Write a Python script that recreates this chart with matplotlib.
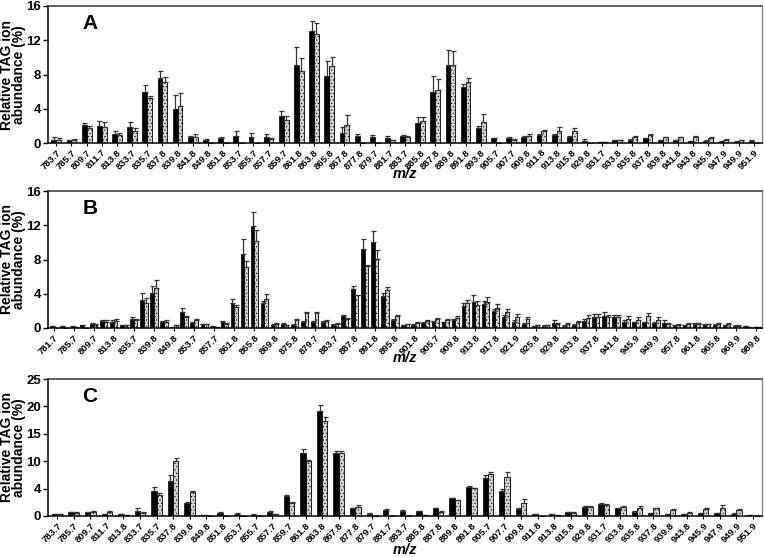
import numpy as np
import matplotlib
matplotlib.use('Agg')
import matplotlib.pyplot as plt

plt.rcParams['font.family'] = ['Liberation Sans', 'DejaVu Sans']
plt.rcParams['hatch.color'] = '#8a8a8a'
plt.rcParams['hatch.linewidth'] = 0.4

# ---- panel A ----
labels_a = ['783.7', '785.7', '809.7', '811.7', '813.8', '833.7', '835.7', '837.8', '839.8',
            '841.8', '849.8', '851.8', '853.7', '855.7', '857.7', '859.7', '861.8', '863.8',
            '865.8', '867.8', '877.8', '879.7', '881.7', '883.7', '885.8', '887.8', '889.8',
            '891.8', '893.8', '905.7', '907.7', '909.8', '911.8', '913.8', '915.8', '929.8',
            '931.7', '933.8', '935.8', '937.8', '939.8', '941.8', '943.8', '945.9', '947.9',
            '949.9', '951.9']
black_a = [0.4, 0.3, 2.1, 2.0, 1.05, 1.9, 5.9, 7.55, 3.95, 0.65, 0.4, 0.55, 0.85, 0.7, 0.75,
           3.2, 9.1, 13.1, 7.85, 1.15, 0.8, 0.65, 0.6, 0.8, 2.35, 6.0, 9.1, 6.55, 1.8, 0.55,
           0.6, 0.7, 0.95, 0.9, 0.7, 0.25, 0.1, 0.35, 0.4, 0.55, 0.35, 0.3, 0.2, 0.25, 0.15,
           0.15, 0.25]
black_a_err = [0.3, 0.1, 0.25, 0.6, 0.4, 0.55, 0.85, 0.9, 1.6, 0.15, 0.05, 0.1, 0.6, 0.45, 0.3,
               0.55, 2.15, 1.1, 1.7, 0.7, 0.2, 0.25, 0.2, 0.1, 0.65, 1.85, 1.8, 0.3, 0.15, 0.05,
               0.1, 0.1, 0.1, 0.1, 0.1, 0.25, 0.05, 0.05, 0.05, 0.05, 0.05, 0.05, 0.05, 0.05,
               0.05, 0.05, 0.05]
gray_a = [0.35, 0.35, 1.8, 1.85, 0.95, 1.45, 5.2, 7.15, 4.3, 0.65, 0, 0, 0, 0.05, 0.5,
          2.65, 8.45, 12.7, 8.95, 2.15, 0, 0, 0.35, 0.75, 2.6, 6.15, 9.1, 7.1, 2.5, 0,
          0.4, 0.85, 1.4, 1.45, 1.35, 0, 0.08, 0.35, 0.75, 0.9, 0.65, 0.7, 0.75, 0.6, 0.4,
          0.3, 0]
gray_a_err = [0.2, 0.1, 0.2, 0.6, 0.2, 0.3, 0.3, 0.55, 1.5, 0.35, 0, 0, 0, 0, 0.1,
              0.45, 1.45, 1.3, 1.15, 1.1, 0, 0, 0.05, 0.1, 0.45, 1.3, 1.7, 0.45, 0.9, 0,
              0.05, 0.15, 0.15, 0.4, 0.4, 0, 0, 0.05, 0.1, 0.15, 0.05, 0.05, 0.05, 0.05,
              0.05, 0.05, 0]

# ---- panel B (every other group labelled) ----
labels_b = ['781.7', '', '785.7', '', '809.7', '', '813.8', '', '835.7', '', '839.8', '',
            '849.8', '', '853.7', '', '857.7', '', '861.8', '', '865.8', '', '869.8', '',
            '875.8', '', '879.7', '', '883.7', '', '887.8', '', '891.8', '', '895.8', '',
            '901.8', '', '905.7', '', '909.8', '', '913.8', '', '917.8', '', '921.9', '',
            '925.8', '', '929.8', '', '933.8', '', '937.8', '', '941.8', '', '945.9', '',
            '949.9', '', '957.8', '', '961.8', '', '965.8', '', '969.9', '', '989.8']
black_b = [0.2, 0.2, 0.15, 0.3, 0.45, 0.8, 0.75, 0.3, 1.1, 3.3, 4.1, 0.65, 0.1, 1.9, 0.6,
           0.45, 0.2, 0.7, 2.9, 8.7, 11.9, 2.9, 0.35, 0.5, 0.35, 0.7, 0.65, 0.7, 0.35, 1.35,
           4.5, 9.2, 10.1, 3.7, 0.9, 0.3, 0.4, 0.55, 0.75, 0.65, 0.95, 2.6, 3.0, 2.8, 1.95,
           1.3, 0.75, 0.5, 0.2, 0.25, 0.55, 0.25, 0.4, 0.8, 1.25, 1.45, 1.3, 0.75, 0.65,
           0.65, 0.55, 0.55, 0.3, 0.3, 0.45, 0.4, 0.4, 0.3, 0.25, 0.2, 0.1]
black_b_err = [0.05, 0.05, 0.05, 0.1, 0.1, 0.15, 0.15, 0.05, 0.2, 0.8, 0.8, 0.15, 0.05, 0.45,
               0.1, 0.05, 0.05, 0.1, 0.5, 1.7, 1.6, 0.3, 0.1, 0.1, 0.1, 0.1, 0.2, 0.1, 0.1,
               0.2, 0.4, 1.2, 1.2, 0.4, 0.15, 0.05, 0.05, 0.1, 0.1, 0.1, 0.15, 0.3, 0.9, 0.4,
               0.3, 0.2, 0.2, 0.1, 0.05, 0.05, 0.4, 0.1, 0.1, 0.2, 0.4, 0.4, 0.2, 0.2, 0.1,
               0.1, 0.1, 0.4, 0.05, 0.05, 0.1, 0.05, 0.1, 0.05, 0.05, 0.05, 0.05]
gray_b = [0, 0, 0.1, 0, 0.35, 0.75, 0.85, 0.3, 0.9, 2.9, 4.7, 0.75, 0.35, 1.25, 0.9,
          0.45, 0.1, 0.5, 2.4, 7.1, 10.2, 3.4, 0.45, 0.35, 0.9, 1.7, 1.75, 0.8, 0.5, 1.1,
          3.8, 7.2, 8.1, 4.4, 1.35, 0.45, 0.55, 0.8, 1.05, 0.9, 1.15, 2.9, 2.7, 3.0, 2.35,
          1.85, 1.3, 1.05, 0.35, 0.35, 0.5, 0.45, 0.7, 1.15, 1.3, 1.25, 1.25, 1.05, 0.95,
          1.35, 0.95, 0.45, 0.4, 0.5, 0.45, 0.45, 0.5, 0.45, 0.25, 0.1, 0.05]
gray_b_err = [0, 0, 0.05, 0, 0.1, 0.15, 0.15, 0.05, 0.15, 0.6, 0.9, 0.2, 0.05, 0.1, 0.1,
              0.05, 0.05, 0.1, 0.3, 0.7, 1.2, 0.6, 0.1, 0.05, 0.1, 0.2, 0.1, 0.1, 0.1, 0.1,
              0.1, 0.2, 1.0, 0.4, 0.15, 0.05, 0.1, 0.1, 0.15, 0.1, 0.3, 0.4, 0.5, 0.6, 0.4,
              0.4, 0.3, 0.2, 0.05, 0.05, 0.1, 0.1, 0.1, 0.4, 0.3, 0.3, 0.3, 0.4, 0.3, 0.4,
              0.3, 0.1, 0.05, 0.1, 0.1, 0.05, 0.1, 0.1, 0.05, 0.05, 0.02]

# ---- panel C ----
labels_c = ['783.7', '785.7', '809.7', '811.7', '813.8', '833.7', '835.7', '837.8', '839.8',
            '849.8', '851.8', '853.7', '855.7', '857.7', '859.7', '861.8', '863.8', '867.8',
            '877.8', '879.7', '881.7', '883.7', '885.8', '887.8', '889.8', '891.8', '905.7',
            '907.7', '909.8', '911.8', '913.8', '915.8', '929.8', '931.7', '933.8', '935.8',
            '937.8', '939.8', '943.8', '945.9', '947.9', '949.9', '951.9']
black_c = [0.35, 0.65, 0.7, 0.35, 0.3, 1.0, 4.6, 6.45, 2.4, 0.15, 0.6, 0.45, 0.25, 0.8,
           3.6, 11.5, 19.2, 11.45, 1.4, 0.45, 1.1, 1.0, 0.85, 1.45, 3.2, 5.35, 7.0, 4.55,
           1.3, 0.3, 0.4, 0.65, 1.7, 2.25, 1.4, 0.75, 0.5, 0.35, 0.3, 0.55, 0.5, 0.45, 0.25]
black_c_err = [0.05, 0.1, 0.1, 0.05, 0.05, 0.5, 0.7, 1.0, 0.2, 0.02, 0.1, 0.05, 0.05, 0.1,
               0.3, 0.8, 1.0, 0.4, 0.1, 0.05, 0.1, 0.05, 0.1, 0.1, 0.1, 0.1, 0.4, 0.4,
               0.1, 0.05, 0.05, 0.1, 0.2, 0.1, 0.1, 0.1, 0.05, 0.05, 0.05, 0.05, 0.05, 0.05, 0.02]
gray_c = [0.3, 0.6, 0.75, 0.8, 0.15, 0.6, 3.8, 10.0, 4.3, 0, 0, 0, 0, 0.3,
          2.4, 10.0, 17.4, 11.45, 1.65, 0, 0, 0, 0.1, 0.8, 2.85, 5.05, 7.6, 7.2,
          2.45, 0, 0.15, 0.55, 1.65, 2.0, 1.7, 1.4, 1.45, 1.15, 0.6, 1.3, 1.4, 1.1, 0]
gray_c_err = [0.05, 0.1, 0.1, 0.1, 0.02, 0.1, 0.4, 0.5, 0.3, 0, 0, 0, 0, 0.05,
              0.15, 0.3, 0.6, 0.4, 0.3, 0, 0, 0, 0.02, 0.1, 0.1, 0.1, 0.4, 0.8,
              0.6, 0, 0.02, 0.1, 0.1, 0.1, 0.1, 0.5, 0.1, 0.1, 0.1, 0.1, 0.6, 0.1, 0]

panels = [
    ('A', labels_a, black_a, black_a_err, gray_a, gray_a_err, 16, [0, 4, 8, 12, 16], None),
    ('B', labels_b, black_b, black_b_err, gray_b, gray_b_err, 16, [0, 4, 8, 12, 16], None),
    ('C', labels_c, black_c, black_c_err, gray_c, gray_c_err, 25, [0, 5, 10, 15, 20, 25],
     ['0', '4', '10', '15', '20', '25']),
]

# axes boxes in pixels: (top, bottom)
boxes = [(6, 143), (191, 328), (379, 516)]
mz_y = [174, 358, 550]
W, H = 764, 557
left_px, right_px = 48, 762

fig = plt.figure(figsize=(W / 100, H / 100), dpi=100)

for (letter, labels, blk, blk_e, gry, gry_e, ymax, yticks, ytl), (top, bot), my in zip(panels, boxes, mz_y):
    ax = fig.add_axes([left_px / W, 1 - bot / H, (right_px - left_px) / W, (bot - top) / H])
    n = len(labels)
    x = np.arange(n)
    w = 0.32 if n < 60 else 0.36
    blk = np.array(blk); gry = np.array(gry)
    ekw = dict(ecolor='#333333', elinewidth=0.9, capsize=1.8, capthick=0.9)
    ax.bar(x - w / 2, blk, w, color='black', edgecolor='black', linewidth=0.5,
           yerr=[np.zeros(n), blk_e], error_kw=ekw)
    ax.bar(x + w / 2, gry, w, color='#d2d2d2', edgecolor='black', linewidth=0.6,
           hatch='.....', yerr=[np.zeros(n), gry_e], error_kw=ekw)
    ax.set_xlim(-0.55, n - 0.45)
    ax.set_ylim(0, ymax)
    ax.set_yticks(yticks)
    if ytl:
        ax.set_yticklabels(ytl)
    for t in ax.get_yticklabels():
        t.set_fontweight('bold')
        t.set_fontsize(9.5)

    idx = [i for i, l in enumerate(labels) if l]
    ax.set_xticks(idx)
    ax.set_xticklabels([labels[i] for i in idx], rotation=45, ha='right',
                       rotation_mode='anchor', fontsize=6.8, fontweight='bold')
    ax.tick_params(axis='x', length=2.5, width=0.8, pad=1.0)
    ax.tick_params(axis='y', length=3.5, width=1.0, pad=1.5)

    for s in ['left', 'bottom', 'top']:
        ax.spines[s].set_linewidth(1.1)
        ax.spines[s].set_color('black')
    ax.spines['right'].set_color('#888888')
    ax.spines['right'].set_linewidth(1.0)
    ax.spines['top'].set_color('#333333')

    ax.text(0.048, 0.83, letter, transform=ax.transAxes, fontsize=15, fontweight='bold')
    ax.set_ylabel('Relative TAG ion\nabundance (%)', fontsize=10, fontweight='bold',
                  linespacing=0.9, va='center')
    ax.yaxis.set_label_coords(-0.049, 0.5)

    fig.text(405 / W, 1 - my / H, 'm/z', ha='center', va='center', fontsize=10.5,
             fontweight='bold', fontstyle='italic')

fig.savefig('out.png', dpi=100)
